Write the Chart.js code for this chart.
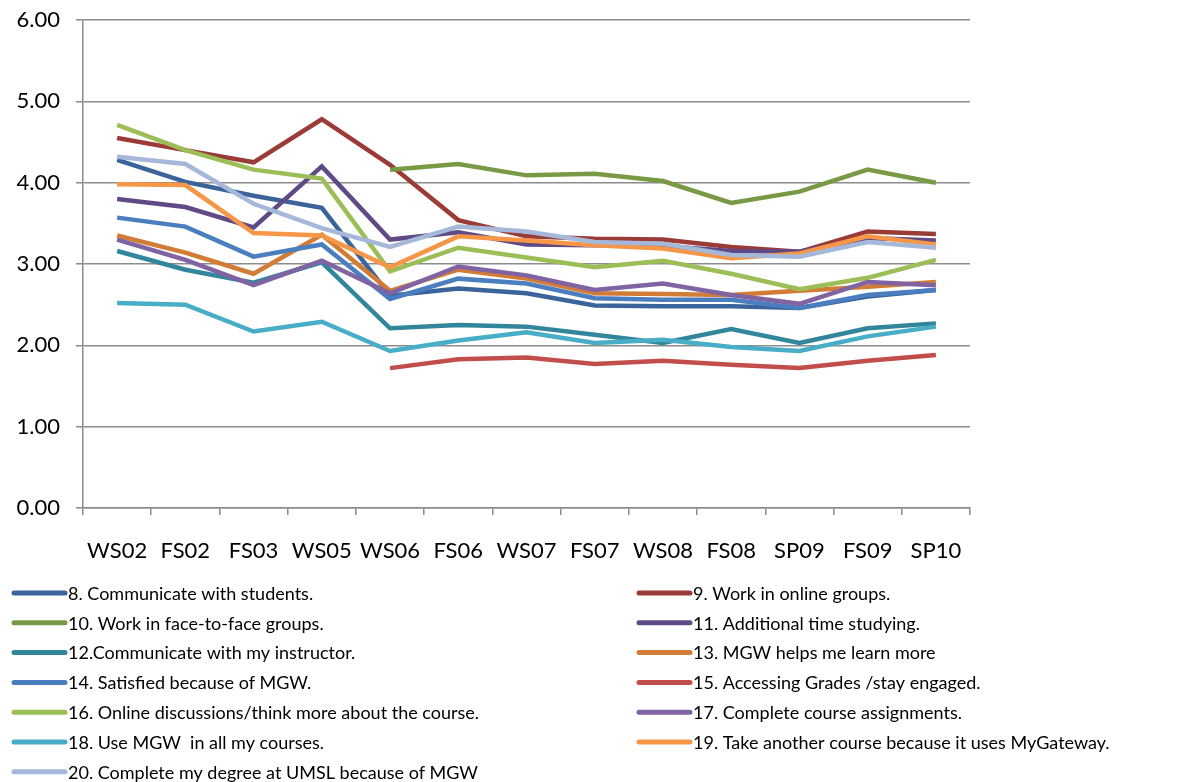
<!DOCTYPE html>
<html>
<head>
<meta charset="utf-8">
<script src="https://cdn.jsdelivr.net/npm/chart.js@4.4.1/dist/chart.umd.min.js"></script>
<style>
  html, body { margin: 0; padding: 0; background: #fff; }
  canvas { display: block; }
</style>
</head>
<body>
<canvas id="surveyChart" width="1190" height="782"></canvas>
<script>
// Survey terms
const categories = ['WS02', 'FS02', 'FS03', 'WS05', 'WS06', 'FS06', 'WS07', 'FS07', 'WS08', 'FS08', 'SP09', 'FS09', 'SP10'];

// Mean score per item
const s8  = [4.28, 4.01, 3.84, 3.69, 2.61, 2.70, 2.64, 2.49, 2.48, 2.48, 2.46, 2.60, 2.68];
const s9  = [4.55, 4.40, 4.25, 4.78, 4.22, 3.54, 3.34, 3.31, 3.30, 3.21, 3.15, 3.40, 3.37];
const s10 = [null, null, null, null, 4.16, 4.23, 4.09, 4.11, 4.02, 3.75, 3.89, 4.16, 4.00];
const s11 = [3.80, 3.70, 3.45, 4.20, 3.30, 3.39, 3.24, 3.23, 3.22, 3.16, 3.15, 3.32, 3.29];
const s12 = [3.16, 2.93, 2.77, 3.02, 2.21, 2.25, 2.23, 2.13, 2.03, 2.20, 2.03, 2.21, 2.27];
const s13 = [3.35, 3.14, 2.88, 3.36, 2.67, 2.93, 2.82, 2.64, 2.63, 2.62, 2.67, 2.72, 2.78];
const s14 = [3.57, 3.46, 3.09, 3.24, 2.57, 2.82, 2.76, 2.58, 2.56, 2.56, 2.46, 2.62, 2.68];
const s15 = [null, null, null, null, 1.72, 1.83, 1.85, 1.77, 1.81, 1.76, 1.72, 1.81, 1.88];
const s16 = [4.71, 4.40, 4.16, 4.05, 2.91, 3.20, 3.08, 2.96, 3.04, 2.88, 2.69, 2.83, 3.05];
const s17 = [3.30, 3.05, 2.74, 3.04, 2.64, 2.97, 2.86, 2.68, 2.76, 2.62, 2.51, 2.78, 2.74];
const s18 = [2.52, 2.50, 2.17, 2.29, 1.93, 2.06, 2.16, 2.03, 2.07, 1.98, 1.93, 2.11, 2.23];
const s19 = [3.98, 3.97, 3.38, 3.35, 2.96, 3.34, 3.29, 3.23, 3.19, 3.07, 3.13, 3.34, 3.24];
const s20 = [4.32, 4.23, 3.74, 3.44, 3.21, 3.46, 3.40, 3.27, 3.25, 3.11, 3.09, 3.27, 3.20];

const labels = [
    '8. Communicate with students.',
    '9. Work in online groups.',
    '10. Work in face-to-face groups.',
    '11. Additional time studying.',
    '12.Communicate with my instructor.',
    '13. MGW helps me learn more',
    '14. Satisfied because of MGW.',
    '15. Accessing Grades /stay engaged.',
    '16. Online discussions/think more about the course.',
    '17. Complete course assignments.',
    '18. Use MGW  in all my courses.',
    '19. Take another course because it uses MyGateway.',
    '20. Complete my degree at UMSL because of MGW'
];
const values = [s8, s9, s10, s11, s12, s13, s14, s15, s16, s17, s18, s19, s20];

const colors = [
    '#3A649A', '#9A3B38', '#789A44', '#5F4A86', '#31869C', '#D27C35', '#4A7EBF',
    '#C24E4B', '#9BBF56', '#8063A3', '#48ADC6', '#F79646', '#A6B8D9'
];

const fontFamily = 'Lato, "Open Sans", sans-serif';
const gridColor = '#8C8C8C';

// Two-column legend drawn under the plot
const legendPlugin = {
    id: 'twoColLegend',
    afterDraw(chart) {
        const ctx = chart.ctx;
        ctx.save();
        ctx.font = '18px ' + fontFamily;
        ctx.fillStyle = '#000';
        ctx.textBaseline = 'middle';
        ctx.lineCap = 'round';
        chart.data.datasets.forEach((ds, i) => {
            const x = (i % 2) ? 637 : 12;
            const y = 593 + Math.floor(i / 2) * 29.8;
            ctx.strokeStyle = ds.borderColor;
            ctx.lineWidth = 5;
            ctx.beginPath();
            ctx.moveTo(x + 2, y);
            ctx.lineTo(x + 53, y);
            ctx.stroke();
            ctx.fillText(ds.label, x + 56, y + 1);
        });
        ctx.restore();
    }
};

const ctx = document.getElementById('surveyChart').getContext('2d');
new Chart(ctx, {
    type: 'line',
    data: {
        labels: categories,
        datasets: values.map((v, i) => ({
            label: labels[i],
            data: v,
            borderColor: colors[i],
            backgroundColor: colors[i],
            borderWidth: 4.5,
            pointRadius: 0,
            tension: 0,
            fill: false,
            order: values.length - i
        }))
    },
    options: {
        responsive: false,
        animation: false,
        layout: { padding: { top: 20, right: 220, bottom: 214, left: 0 } },
        plugins: {
            legend: { display: false },
            tooltip: { enabled: false }
        },
        scales: {
            x: {
                offset: true,
                grid: {
                    offset: true,
                    drawOnChartArea: false,
                    drawTicks: true,
                    tickLength: 7,
                    color: gridColor,
                    lineWidth: 1.5
                },
                border: { color: gridColor, width: 1.5 },
                ticks: {
                    color: '#000',
                    padding: 23,
                    maxRotation: 0,
                    autoSkip: false,
                    font: { family: fontFamily, size: 22 }
                },
                afterFit: s => { s.height = 60; s.paddingLeft = 0; s.paddingRight = 0; }
            },
            y: {
                min: 0,
                max: 6,
                grid: {
                    color: gridColor,
                    lineWidth: 1.5,
                    tickLength: 7
                },
                border: { color: gridColor, width: 1.5 },
                ticks: {
                    stepSize: 1,
                    color: '#000',
                    padding: 16,
                    font: { family: fontFamily, size: 22 },
                    callback: v => v.toFixed(2)
                },
                afterFit: s => { s.width = 83; s.paddingTop = 0; s.paddingBottom = 0; }
            }
        }
    },
    plugins: [legendPlugin]
});
</script>
</body>
</html>
